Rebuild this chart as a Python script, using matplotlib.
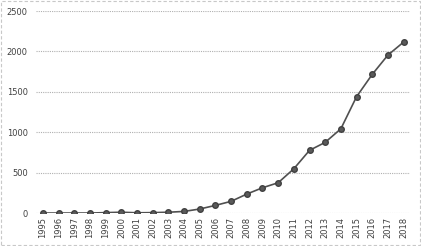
import matplotlib.pyplot as plt
from matplotlib.patches import Rectangle

years = [str(y) for y in range(1995, 2019)]
values = [0, 0, 0, 0, 5, 10, 3, 5, 10, 20, 50, 95, 145, 235, 313, 375,
          548, 776, 875, 1043, 1440, 1716, 1955, 2116]
y_ticks = [0, 500, 1000, 1500, 2000, 2500]


def main():
    fig = plt.figure(figsize=(4.21, 2.46), dpi=100)
    ax = fig.add_axes([0.0855, 0.134, 0.888, 0.821])

    x = list(range(len(years)))
    ax.plot(x, values, color="#505050", linewidth=1.2, marker="o",
            markersize=4, markerfacecolor="#5a5a5a", markeredgecolor="#404040",
            zorder=3)

    ax.set_xlim(-0.45, len(years) - 0.6)
    ax.set_ylim(0, 2500)
    ax.set_yticks(y_ticks)
    ax.set_xticks(x)
    ax.set_xticklabels(years, rotation=90, fontsize=6, color="#404040")
    ax.tick_params(axis="y", labelsize=6, labelcolor="#404040", length=0, pad=6)
    ax.tick_params(axis="x", length=0, pad=3)

    ax.grid(axis="y", linestyle=(0, (1, 1)), color="#b0b0b0", linewidth=0.8)
    ax.set_axisbelow(True)
    for spine in ax.spines.values():
        spine.set_visible(False)

    fig.patches.append(Rectangle((0.002, 0.004), 0.996, 0.992,
                                 transform=fig.transFigure, fill=False,
                                 edgecolor="#c8c8c8", linewidth=0.8,
                                 linestyle=(0, (3, 2))))

    fig.savefig("out.png", dpi=100)
    plt.close(fig)


if __name__ == "__main__":
    main()
